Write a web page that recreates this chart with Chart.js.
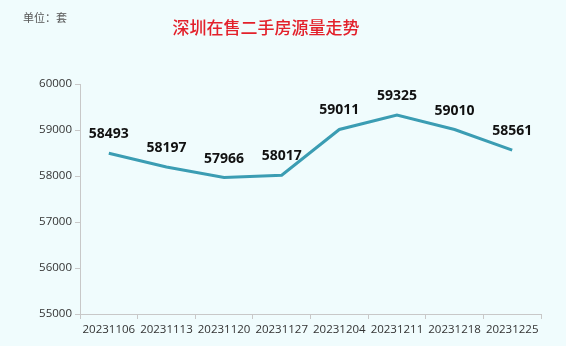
<!DOCTYPE html>
<html>
<head>
<meta charset="utf-8">
<script src="https://cdn.jsdelivr.net/npm/chart.js@4.4.0/dist/chart.umd.min.js"></script>
<style>
  html, body { margin: 0; padding: 0; background: #f0fcfd; }
  #wrap { width: 566px; height: 346px; }
</style>
</head>
<body>
<div id="wrap"><canvas id="myChart" width="566" height="346"></canvas></div>
<script>
// 周度数据
const weeks = ['20231106', '20231113', '20231120', '20231127', '20231204', '20231211', '20231218', '20231225'];
const listings = [58493, 58197, 57966, 58017, 59011, 59325, 59010, 58561];
const yTicks = [55000, 56000, 57000, 58000, 59000, 60000];

const chartTitle = '深圳在售二手房源量走势';
const unitText = '单位：套';

// 标题、单位和数值标签
const textPlugin = {
    id: 'textPlugin',
    afterDatasetsDraw(chart) {
        const ctx = chart.ctx;
        ctx.save();
        ctx.fillStyle = '#555';
        ctx.font = '11px "Noto Sans CJK SC"';
        ctx.textAlign = 'left';
        ctx.textBaseline = 'middle';
        ctx.fillText(unitText, 23, 18);

        ctx.fillStyle = '#e3212b';
        ctx.font = '500 17px "Noto Sans CJK SC"';
        ctx.textAlign = 'center';
        ctx.fillText(chartTitle, 266, 28);

        const meta = chart.getDatasetMeta(0);
        ctx.fillStyle = '#111';
        ctx.font = 'bold 14px "Open Sans"';
        meta.data.forEach((pt, i) => {
            ctx.fillText(listings[i], pt.x, pt.y - 19);
        });
        ctx.restore();
    }
};

const ctx = document.getElementById('myChart').getContext('2d');
const myChart = new Chart(ctx, {
    type: 'line',
    data: {
        labels: weeks,
        datasets: [{
            data: listings,
            borderColor: '#3b9db3',
            borderWidth: 3,
            pointRadius: 0,
            tension: 0
        }]
    },
    options: {
        responsive: false,
        animation: false,
        layout: { padding: { top: 84, right: 25, left: 0, bottom: 0 } },
        plugins: {
            legend: { display: false },
            tooltip: { enabled: false }
        },
        scales: {
            x: {
                offset: true,
                grid: { offset: true, drawOnChartArea: false, color: '#c8c8c8', tickLength: 5 },
                border: { color: '#c8c8c8' },
                ticks: { color: '#333', font: { family: 'Open Sans', size: 11.5 }, maxRotation: 0, autoSkip: false, padding: 4 },
                afterFit(scale) { scale.height = 32; }
            },
            y: {
                min: 55000,
                max: 60000,
                afterBuildTicks(scale) { scale.ticks = yTicks.map(v => ({ value: v })); },
                grid: { drawOnChartArea: false, color: '#c8c8c8', tickLength: 5 },
                border: { color: '#c8c8c8' },
                ticks: {
                    color: '#333',
                    font: { family: 'Open Sans', size: 11.5 },
                    padding: 3,
                    callback: v => String(v)
                },
                afterFit(scale) { scale.width = 80; }
            }
        }
    },
    plugins: [textPlugin]
});
</script>
</body>
</html>
